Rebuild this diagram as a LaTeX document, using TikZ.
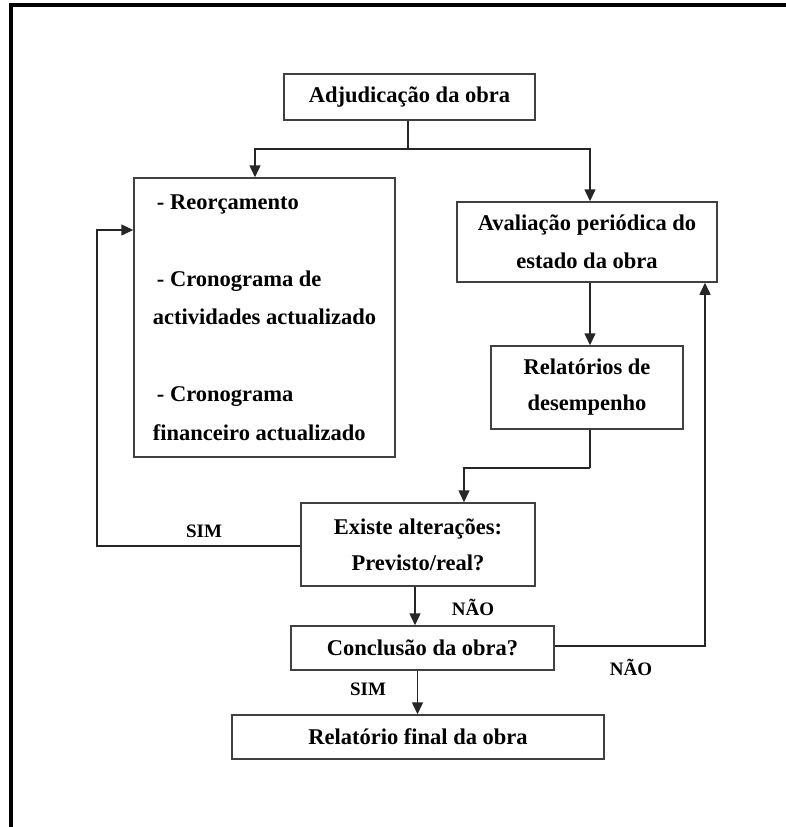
\documentclass[tikz,border=0pt]{standalone}
\usepackage{fontspec}
\setmainfont{Liberation Serif}
\usetikzlibrary{arrows.meta,calc}
\definecolor{boxline}{HTML}{404040}
\tikzset{
  boxnode/.style={draw=boxline,line width=1.5pt,inner sep=0pt,align=center,
    font=\fontsize{22.5}{37}\selectfont\bfseries},
  conn/.style={draw=black!85,line width=1.5pt},
  arr/.style={conn,-{Triangle[length=12pt,width=11pt]}},
  lbl/.style={inner sep=0pt,font=\fontsize{19}{22}\selectfont\bfseries}
}
\begin{document}
\begin{tikzpicture}[x=1pt,y=-1pt]
\useasboundingbox (0,0) rectangle (786,827);
% outer frame (top and left)
\draw[line width=4.5pt,line cap=rect] (11,829) -- (11,5) -- (790,5);

\node[boxnode,minimum width=251pt,minimum height=46pt] (adj) at (409.5,97) {Adjudicação da obra};
\node[boxnode,minimum width=261pt,minimum height=279pt,align=left,
      font=\fontsize{22.5}{38.5}\selectfont\bfseries] (plan) at (264.5,317.5)
  {\hspace{4pt}- Reorçamento\\[38.5pt]
   \hspace{4pt}- Cronograma de\\
   actividades actualizado\\[38.5pt]
   \hspace{4pt}- Cronograma\\
   financeiro actualizado};
\node[boxnode,minimum width=260pt,minimum height=80pt,font=\fontsize{22.5}{38}\selectfont\bfseries] (aval) at (587,242) {Avaliação periódica do\\estado da obra};
\node[boxnode,minimum width=192pt,minimum height=83pt,font=\fontsize{22.5}{36}\selectfont\bfseries] (rel) at (587,387.5) {Relatórios de\\desempenho};
\node[boxnode,minimum width=234pt,minimum height=83pt,font=\fontsize{22.5}{36}\selectfont\bfseries] (exist) at (418,544.5) {Existe alterações:\\Previsto/real?};
\node[boxnode,minimum width=263pt,minimum height=44pt] (concl) at (422.5,648) {Conclusão da obra?};
\node[boxnode,minimum width=372pt,minimum height=44pt] (final) at (418,737) {Relatório final da obra};

% labels
\node[lbl] (simA) at (204,531) {SIM};
\node[lbl] (naoA) at (473,607) {NÃO};
\node[lbl] (naoB) at (631,667) {NÃO};
\node[lbl] (simB) at (368,689) {SIM};

% connectors
\coordinate (j1) at (408,149);
\draw[conn] ([xshift=-1.5pt]adj.south) -- (j1);
\draw[arr] (j1) -| ([xshift=-9.5pt]plan.north);
\draw[arr] (j1) -| ([xshift=3pt]aval.north);
\draw[arr] ([xshift=3pt]aval.south) -- ([xshift=3pt]rel.north);
\coordinate (j2) at (590,468);
\draw[conn] ([xshift=3pt]rel.south) -- (j2);
\draw[arr] (j2) -| ([xshift=46pt]exist.north);
\draw[arr] ([xshift=-3pt]exist.south) -- ([xshift=-3pt]exist.south |- concl.north);
\coordinate (j3) at (97,546);
\coordinate (j4) at (97,230);
\draw[arr] (exist.west |- j3) -- (j3) -- (j4) -- (plan.west |- j4);
\coordinate (j5) at (705,646);
\draw[arr] (concl.east |- j5) -- (j5) -- (j5 |- aval.south);
\draw[arr] ([xshift=-5pt]concl.south) -- ([xshift=-5pt]concl.south |- final.north);
\end{tikzpicture}
\end{document}
